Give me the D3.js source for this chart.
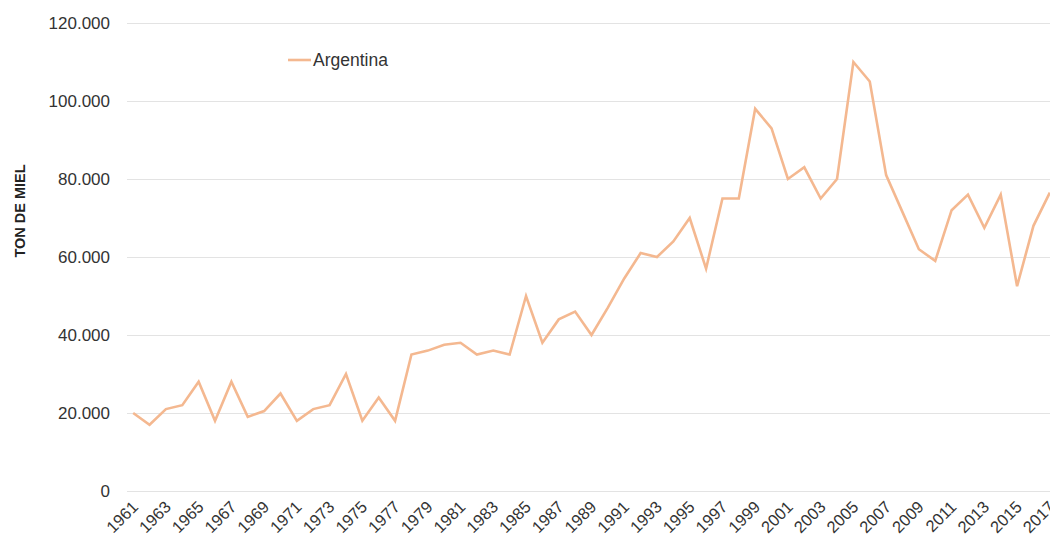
<!DOCTYPE html>
<html>
<head>
<meta charset="utf-8">
<script src="https://cdn.jsdelivr.net/npm/d3@7"></script>
<style>
  html, body { margin: 0; padding: 0; background: #fff; }
  #chart { width: 1050px; height: 544px; overflow: hidden; }
  text { font-family: "Liberation Sans", Arial, Helvetica, sans-serif; }
</style>
</head>
<body>
<div id="chart"></div>
<script>
'use strict';

const years = d3.range(1961, 2018);
const argentina = [
  20000, 17000, 21000, 22000, 28000, 18000, 28000, 19000, 20500, 25000,
  18000, 21000, 22000, 30000, 18000, 24000, 18000, 35000, 36000, 37500,
  38000, 35000, 36000, 35000, 50000, 38000, 44000, 46000, 40000, 47000,
  54500, 61000, 60000, 64000, 70000, 57000, 75000, 75000, 98000, 93000,
  80000, 83000, 75000, 80000, 110000, 105000, 81000, 71500, 62000, 59000,
  72000, 76000, 67500, 76000, 52500, 68000, 76500
];
const yTicks = [0, 20000, 40000, 60000, 80000, 100000, 120000];
const seriesName = 'Argentina';
const yTitle = 'TON DE MIEL';

const W = 1050, H = 544;
const MARGIN = { top: 23, left: 125, bottom: 53 };
const plotW = 933;   // plot runs slightly past the right edge, like the source image
const plotH = H - MARGIN.top - MARGIN.bottom;
const LINE_COLOR = '#f4b890';

const svg = d3.select('#chart').append('svg')
  .attr('width', W)
  .attr('height', H);

const g = svg.append('g')
  .attr('transform', `translate(${MARGIN.left},${MARGIN.top})`);

const x = d3.scaleBand().domain(years).range([0, plotW]);
const cx = d => x(d) + x.bandwidth() / 2;

const y = d3.scaleLinear().domain([0, 120000]).range([plotH, 0]);

const fmt = v => v === 0 ? '0' : d3.format(',')(v).replace(/,/g, '.');

// Grid
g.append('g')
  .call(d3.axisLeft(y).tickValues(yTicks).tickSize(-plotW).tickFormat(''))
  .call(grp => grp.select('.domain').remove())
  .call(grp => grp.selectAll('line')
    .attr('stroke', '#e3e3e3')
    .attr('stroke-width', 1.2)
    .attr('x1', 2));

// Y labels
g.append('g')
  .call(d3.axisLeft(y).tickValues(yTicks).tickSize(0).tickPadding(15).tickFormat(fmt))
  .call(grp => grp.select('.domain').remove())
  .call(grp => grp.selectAll('text')
    .attr('font-size', '17px')
    .attr('fill', '#333')
    .attr('font-family', '"Liberation Sans", Arial, sans-serif'));

// X labels, every other year, rotated
g.append('g')
  .attr('transform', `translate(0,${plotH})`)
  .call(d3.axisBottom(x).tickValues(years.filter(d => (d - 1961) % 2 === 0)).tickSize(0).tickFormat(d3.format('d')))
  .call(grp => grp.select('.domain').remove())
  .call(grp => grp.selectAll('text')
    .attr('font-size', '16.5px')
    .attr('fill', '#333')
    .attr('font-family', '"Liberation Sans", Arial, sans-serif')
    .attr('text-anchor', 'end')
    .attr('dy', null)
    .attr('y', 0)
    .attr('transform', 'translate(6,17) rotate(-45)'));

// Axis title
svg.append('text')
  .attr('transform', 'translate(25,211) rotate(-90)')
  .attr('text-anchor', 'middle')
  .attr('font-size', '14.5px')
  .attr('font-weight', 'bold')
  .attr('fill', '#222')
  .text(yTitle);

// Series line
const line = d3.line()
  .x((d, i) => cx(years[i]))
  .y(d => y(d));

g.append('path')
  .datum(argentina)
  .attr('fill', 'none')
  .attr('stroke', LINE_COLOR)
  .attr('stroke-width', 2.6)
  .attr('stroke-linejoin', 'miter')
  .attr('d', line);

// Legend
const legend = svg.append('g').attr('transform', 'translate(288,60)');
legend.append('line')
  .attr('x1', 0).attr('x2', 23).attr('y1', 0).attr('y2', 0)
  .attr('stroke', LINE_COLOR)
  .attr('stroke-width', 2.6);
legend.append('text')
  .attr('x', 25).attr('y', 6)
  .attr('font-size', '17.5px')
  .attr('fill', '#333')
  .text(seriesName);
</script>
</body>
</html>
